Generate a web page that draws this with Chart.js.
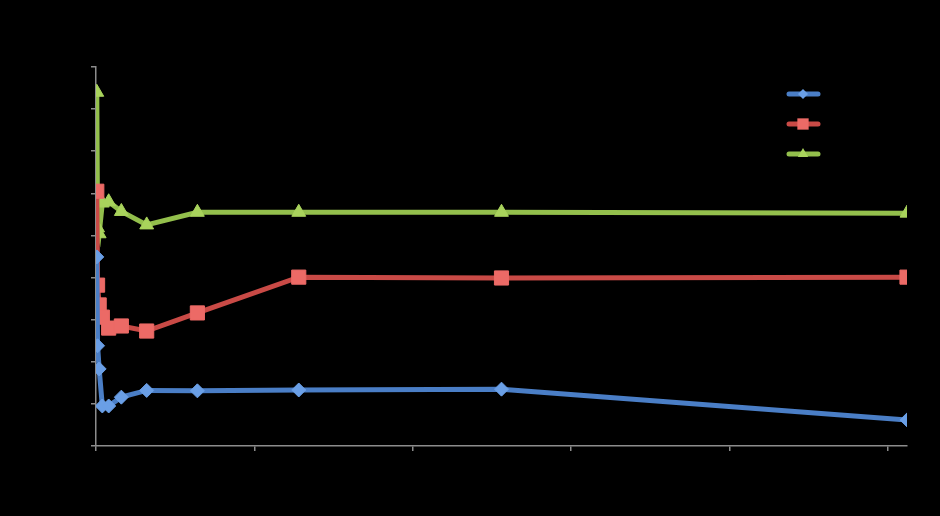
<!DOCTYPE html>
<html>
<head>
<meta charset="utf-8">
<script src="https://cdn.jsdelivr.net/npm/chart.js@4/dist/chart.umd.min.js"></script>
<style>
  html, body { margin: 0; padding: 0; background: #000; }
  #wrap { width: 940px; height: 516px; }
</style>
</head>
<body>
<div id="wrap"><canvas id="myCanvas" width="940" height="516"></canvas></div>
<script>
// x values double at each step
var xValues = [0.25, 0.5, 1, 2, 4, 8, 16, 32, 64, 128, 256];
var series1 = [4.49, 2.38, 1.83, 0.95, 0.95, 1.16, 1.32, 1.31, 1.33, 1.35, 0.62];
var series2 = [6.05, 3.82, 3.35, 3.06, 2.80, 2.85, 2.73, 3.16, 4.01, 3.99, 4.01];
var series3 = [8.40, 5.18, 5.04, 5.77, 5.80, 5.57, 5.25, 5.55, 5.55, 5.55, 5.53];
var seriesNames = ['Series1', 'Series2', 'Series3'];
var xTicks = [0, 50, 100, 150, 200, 250];
var yTicks = [0, 1, 2, 3, 4, 5, 6, 7, 8, 9];

function toPoints(ys) {
    var pts = [];
    for (var i = 0; i < xValues.length; i++) {
        pts.push({x: xValues[i], y: ys[i]});
    }
    return pts;
}

var styles = [
    {line: '#4a7ec6', fill: '#6a9fe6', shape: 'rectRot', r: 7},
    {line: '#c94a46', fill: '#ec6a66', shape: 'rect', r: 10},
    {line: '#93bf4c', fill: '#a9d35c', shape: 'triangle', r: 8}
];
var allSeries = [series1, series2, series3];

var datasets = [];
for (var s = 0; s < allSeries.length; s++) {
    datasets.push({
        label: seriesNames[s],
        data: toPoints(allSeries[s]),
        showLine: true,
        borderColor: styles[s].line,
        borderWidth: 5,
        pointStyle: styles[s].shape,
        pointRadius: styles[s].r,
        pointBackgroundColor: styles[s].fill,
        pointBorderColor: styles[s].fill,
        pointBorderWidth: 1,
        tension: 0
    });
}

// legend drawn in the top right, like the Excel original
var legendPlugin = {
    id: 'excelLegend',
    afterDraw: function(chart) {
        var ctx = chart.ctx;
        for (var i = 0; i < datasets.length; i++) {
            var y = 94 + i * 30;
            ctx.save();
            ctx.strokeStyle = styles[i].line;
            ctx.lineWidth = 5;
            ctx.lineCap = 'round';
            ctx.beginPath();
            ctx.moveTo(789, y);
            ctx.lineTo(818, y);
            ctx.stroke();
            ctx.fillStyle = styles[i].fill;
            ctx.strokeStyle = styles[i].fill;
            ctx.lineWidth = 1;
            Chart.helpers.drawPoint(ctx, {pointStyle: styles[i].shape, radius: styles[i].r - 2, rotation: 0}, 803, y);
            ctx.fillStyle = '#000';
            ctx.font = '13px "Liberation Sans"';
            ctx.textBaseline = 'middle';
            ctx.fillText(seriesNames[i], 826, y);
            ctx.restore();
        }
    }
};

var configure = {
    type: 'scatter',
    data: {datasets: datasets},
    options: {
        responsive: false,
        animation: false,
        layout: {padding: {left: 0, top: 67, right: 33, bottom: 0}},
        plugins: {
            legend: {display: false},
            tooltip: {enabled: false}
        },
        scales: {
            x: {
                type: 'linear',
                min: 0,
                max: 256,
                afterBuildTicks: function(scale) {
                    scale.ticks = xTicks.map(function(v) { return {value: v}; });
                },
                afterFit: function(scale) { scale.height = 70; },
                grid: {drawOnChartArea: false, drawTicks: true, tickLength: 5, color: '#8c8c8c', lineWidth: 1.5},
                border: {color: '#8c8c8c', width: 1.5},
                ticks: {color: '#000', font: {family: 'Liberation Sans', size: 13}}
            },
            y: {
                min: 0,
                max: 9,
                afterBuildTicks: function(scale) {
                    scale.ticks = yTicks.map(function(v) { return {value: v}; });
                },
                afterFit: function(scale) { scale.width = 96; },
                grid: {drawOnChartArea: false, drawTicks: true, tickLength: 5, color: '#8c8c8c', lineWidth: 1.5},
                border: {color: '#8c8c8c', width: 1.5},
                ticks: {color: '#000', font: {family: 'Liberation Sans', size: 13}}
            }
        }
    },
    plugins: [legendPlugin]
};

window.lineChart = new Chart(document.getElementById('myCanvas').getContext('2d'), configure);
</script>
</body>
</html>
